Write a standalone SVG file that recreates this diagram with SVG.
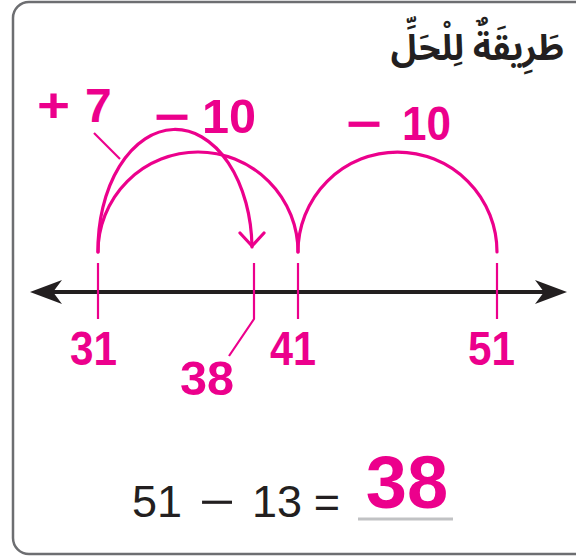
<svg xmlns="http://www.w3.org/2000/svg" width="576" height="558" viewBox="0 0 576 558">
<style>
.pk{fill:#ec008c;font-family:"Liberation Sans",Arial,sans-serif;font-weight:bold;font-size:48px}
.arc{fill:none;stroke:#ec008c;stroke-width:3.2;stroke-linecap:round}
.tick{stroke:#ec008c;stroke-width:2.2}
.eq{fill:#231f20;font-family:"Liberation Sans",Arial,sans-serif;font-size:45px;text-anchor:middle}
</style>
<rect x="13" y="2" width="600" height="552" rx="16" fill="#fff" stroke="#6d6e71" stroke-width="2.5"/>
<g id="title">
<text x="564" y="60" text-anchor="end" font-family="'Noto Sans Arabic','DejaVu Sans',sans-serif" font-weight="bold" font-size="35" fill="#231f20">طَرِيقَةٌ لِلْحَلِّ</text>
</g>
<g id="numberline">
<line x1="45" y1="292" x2="552" y2="292" stroke="#231f20" stroke-width="4"/>
<path d="M30,292 L62,280 L53,292 L62,304 Z" fill="#231f20"/>
<path d="M567,292 L535,280 L544,292 L535,304 Z" fill="#231f20"/>
</g>
<g id="ticks">
<line class="tick" x1="98" y1="263" x2="98" y2="319"/>
<polyline class="tick" fill="none" points="254,263 254,319 229,356"/>
<line class="tick" x1="298" y1="263" x2="298" y2="319"/>
<line class="tick" x1="497" y1="263" x2="497" y2="319"/>
</g>
<g id="connectors">
<path class="arc" d="M98,252 A100,100 0 0 1 298,252"/>
<path class="arc" d="M298,252 A99.5,100 0 0 1 497,252"/>
<path class="arc" d="M98,252 A77,120 0 0 1 252,247"/>
<polyline class="arc" points="240,233 252,246 264,233"/>
<line class="tick" x1="94" y1="133" x2="120" y2="159"/>
</g>
<g id="labels">
<text class="pk" y="122"><tspan x="37" textLength="33" lengthAdjust="spacingAndGlyphs">+</tspan><tspan> </tspan><tspan x="85">7</tspan></text>
<text class="pk" y="133"><tspan x="154" textLength="36" lengthAdjust="spacingAndGlyphs">−</tspan><tspan> </tspan><tspan x="202" textLength="54" lengthAdjust="spacingAndGlyphs">10</tspan></text>
<text class="pk" y="140"><tspan x="346" textLength="36" lengthAdjust="spacingAndGlyphs">−</tspan><tspan> </tspan><tspan x="402" textLength="49" lengthAdjust="spacingAndGlyphs">10</tspan></text>
<text class="pk" x="70" y="365" textLength="47" lengthAdjust="spacingAndGlyphs">31</text>
<text class="pk" x="270" y="365" textLength="46" lengthAdjust="spacingAndGlyphs">41</text>
<text class="pk" x="468" y="365" textLength="47" lengthAdjust="spacingAndGlyphs">51</text>
<text class="pk" x="180" y="395" textLength="54" lengthAdjust="spacingAndGlyphs">38</text>
</g>
<g id="equation">
<text class="eq" x="157" y="517">51</text>
<text class="eq" x="199" y="517" textLength="36" lengthAdjust="spacingAndGlyphs" style="text-anchor:start">−</text>
<text class="eq" x="277" y="517">13</text>
<text class="eq" x="327" y="517">=</text>
<line x1="358" y1="519" x2="453" y2="519" stroke="#c1c2c4" stroke-width="3"/>
<text x="407" y="508" text-anchor="middle" font-family="'Liberation Sans',Arial,sans-serif" font-weight="bold" font-size="74" fill="#ec008c">38</text>
</g>
</svg>
